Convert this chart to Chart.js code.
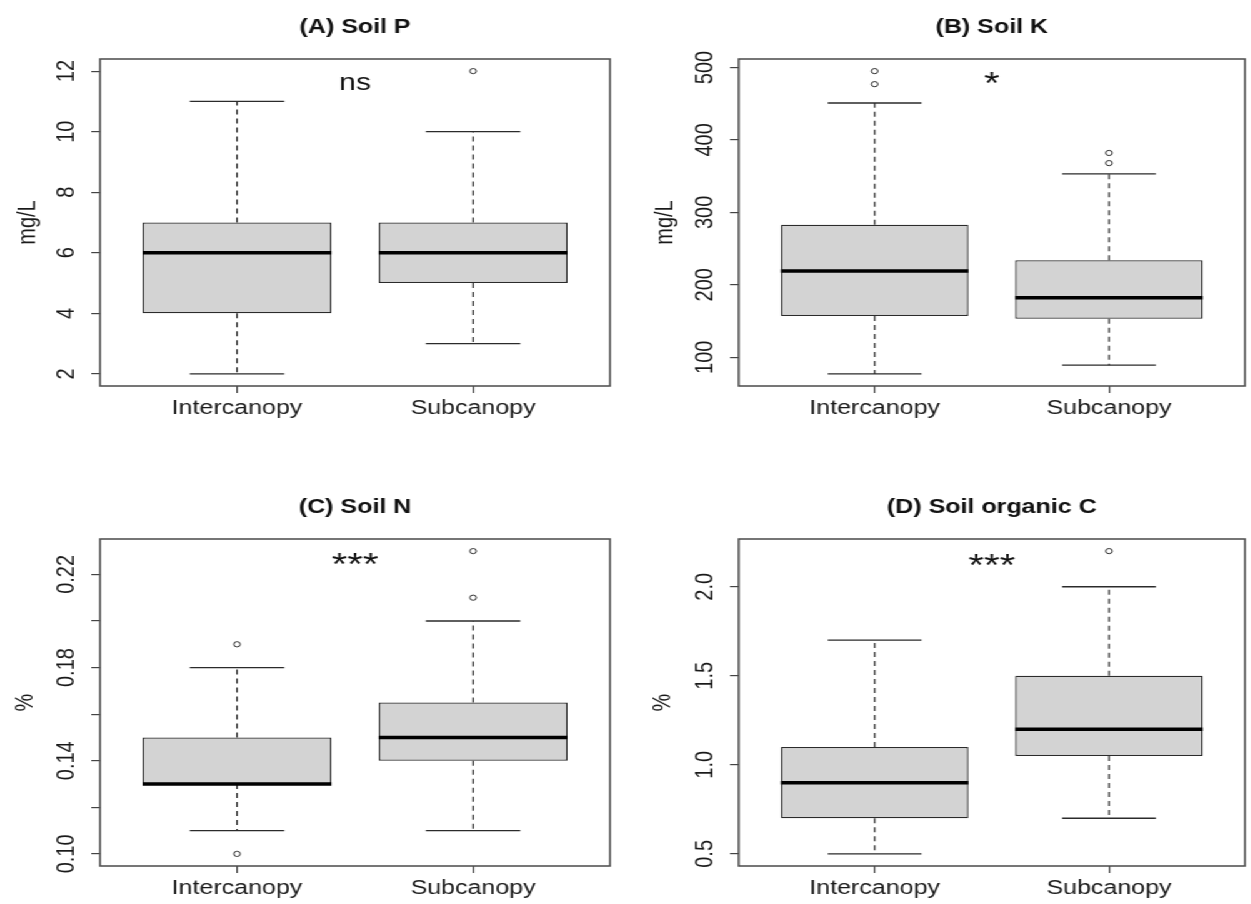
<!DOCTYPE html>
<html>
<head>
<meta charset="utf-8">
<title>Soil nutrients by canopy position</title>
<script src="https://cdn.jsdelivr.net/npm/chart.js@4.4.1/dist/chart.umd.min.js"></script>
<style>
  html, body { margin: 0; padding: 0; background: #ffffff; overflow: hidden; }
  /* The figure is laid out on a narrower grid and widened, which gives the
     lettering and boxes their broad, stretched proportions. */
  #figure { position: absolute; left: 0; top: 0; width: 1000.8px; height: 904px;
            transform: scaleX(1.25); transform-origin: 0 0; }
  .panel { position: absolute; }
</style>
</head>
<body>
<div id="figure">
  <canvas id="panelA" class="panel" width="500" height="424" style="left:0px;top:0px"></canvas>
  <canvas id="panelB" class="panel" width="490" height="424" style="left:511px;top:0px"></canvas>
  <canvas id="panelC" class="panel" width="500" height="424" style="left:0px;top:480px"></canvas>
  <canvas id="panelD" class="panel" width="490" height="424" style="left:511px;top:480px"></canvas>
</div>
<script>
// ---- groups ----
const categories = ['Intercanopy', 'Subcanopy'];
const groupX = [1, 2];

// ---- (A) Soil P, mg/L ----
const pLow = [2, 3];
const pQ1 = [4, 5];
const pMedian = [6, 6];
const pQ3 = [7, 7];
const pHigh = [11, 10];
const pOutliers = [[], [12]];
const pTicks = [2, 4, 6, 8, 10, 12];
const pTickLabels = ['2', '4', '6', '8', '10', '12'];

// ---- (B) Soil K, mg/L ----
const kLow = [77, 89];
const kQ1 = [157, 153];
const kMedian = [219, 182];
const kQ3 = [283, 234];
const kHigh = [451, 353];
const kOutliers = [[477, 495], [368, 382]];
const kTicks = [100, 200, 300, 400, 500];
const kTickLabels = ['100', '200', '300', '400', '500'];

// ---- (C) Soil N, % ----
const nLow = [0.11, 0.11];
const nQ1 = [0.13, 0.14];
const nMedian = [0.13, 0.15];
const nQ3 = [0.15, 0.165];
const nHigh = [0.18, 0.20];
const nOutliers = [[0.19, 0.10], [0.21, 0.23]];
const nTicks = [0.10, 0.12, 0.14, 0.16, 0.18, 0.20, 0.22];
const nTickLabels = ['0.10', '', '0.14', '', '0.18', '', '0.22'];

// ---- (D) Soil organic C, % ----
const cLow = [0.5, 0.7];
const cQ1 = [0.7, 1.05];
const cMedian = [0.9, 1.2];
const cQ3 = [1.1, 1.5];
const cHigh = [1.7, 2.0];
const cOutliers = [[], [2.2]];
const cTicks = [0.5, 1.0, 1.5, 2.0];
const cTickLabels = ['0.5', '1.0', '1.5', '2.0'];

// ---- panel texts ----
const titles = ['(A) Soil P', '(B) Soil K', '(C) Soil N', '(D) Soil organic C'];
const units = ['mg/L', 'mg/L', '%', '%'];
const significance = ['ns', '*', '***', '***'];
const significanceY = [11.6, 476, 0.2234, 2.11];

// ---- drawing ----
const FONT = '"Liberation Sans", Arial, Helvetica, sans-serif';
Chart.defaults.font.family = FONT;
Chart.defaults.color = '#1a1a1a';

const BOX_WIDTH = 0.8;      // box width in group units
const STAPLE_WIDTH = 0.4;   // whisker cap width in group units
const X_MIN = 0.42, X_MAX = 2.58;
const INK = '#2b2b2b';

function paddedRange(values) {
  const lo = Math.min(...values), hi = Math.max(...values);
  const pad = (hi - lo) * 0.04;
  return [lo - pad, hi + pad];
}

// Join separate two-point segments into one series broken by gaps.
function joinSegments(segs) {
  const out = [];
  segs.forEach((s, i) => {
    if (i) out.push({ x: s[0].x, y: null });
    out.push(s[0], s[1]);
  });
  return out;
}

function buildPanel(p) {
  const boxes = groupX.map((x, i) => ({ x, y: [p.q1[i], p.q3[i]] }));
  const whiskers = [], caps = [], medians = [], points = [];
  groupX.forEach((x, i) => {
    whiskers.push([{ x, y: p.q3[i] }, { x, y: p.high[i] }]);
    whiskers.push([{ x, y: p.q1[i] }, { x, y: p.low[i] }]);
    caps.push([{ x: x - STAPLE_WIDTH / 2, y: p.high[i] }, { x: x + STAPLE_WIDTH / 2, y: p.high[i] }]);
    caps.push([{ x: x - STAPLE_WIDTH / 2, y: p.low[i] }, { x: x + STAPLE_WIDTH / 2, y: p.low[i] }]);
    medians.push([{ x: x - BOX_WIDTH / 2, y: p.median[i] }, { x: x + BOX_WIDTH / 2, y: p.median[i] }]);
    p.outliers[i].forEach(v => points.push({ x, y: v }));
  });
  const yRange = paddedRange([...p.low, ...p.high, ...p.outliers.flat()]);

  const frame = {
    id: 'frame',
    afterDraw(chart) {
      const { ctx, chartArea: a } = chart;
      ctx.save();
      ctx.strokeStyle = '#4a4a4a';
      ctx.lineWidth = 1.5;
      ctx.strokeRect(a.left, a.top, a.right - a.left, a.bottom - a.top);
      ctx.restore();
    }
  };

  const rotatedTickLabels = {
    id: 'rotatedTickLabels',
    afterDraw(chart) {
      const { ctx, chartArea: a, scales: { y } } = chart;
      ctx.save();
      ctx.font = '20px ' + FONT;
      ctx.fillStyle = '#1a1a1a';
      ctx.textAlign = 'center';
      ctx.textBaseline = 'middle';
      y.ticks.forEach((t, i) => {
        const text = p.tickLabels[i];
        if (!text) return;
        ctx.save();
        ctx.translate(a.left - 26.8, y.getPixelForValue(t.value));
        ctx.rotate(-Math.PI / 2);
        ctx.fillText(text, 0, 0);
        ctx.restore();
      });
      ctx.restore();
    }
  };

  const note = {
    id: 'note',
    afterDatasetsDraw(chart) {
      const { ctx, scales: { x, y } } = chart;
      ctx.save();
      ctx.font = p.noteSize + 'px ' + FONT;
      ctx.fillStyle = '#111';
      ctx.textAlign = 'center';
      ctx.textBaseline = 'middle';
      ctx.fillText(p.note, x.getPixelForValue(1.5), y.getPixelForValue(p.noteY));
      ctx.restore();
    }
  };

  return new Chart(document.getElementById(p.id), {
    type: 'bar',
    data: {
      datasets: [
        { type: 'line', data: points, showLine: false, pointRadius: 2.6, pointBorderWidth: 1,
          pointBorderColor: INK, pointBackgroundColor: 'rgba(255,255,255,0)', order: 0 },
        { type: 'line', data: joinSegments(medians), borderColor: '#000', borderWidth: 3.5,
          borderCapStyle: 'butt', pointRadius: 0, order: 1 },
        { type: 'line', data: joinSegments(caps), borderColor: INK, borderWidth: 1.3,
          pointRadius: 0, order: 2 },
        { type: 'line', data: joinSegments(whiskers), borderColor: INK, borderWidth: 1.2,
          borderDash: [5, 4], pointRadius: 0, order: 3 },
        { type: 'bar', data: boxes, backgroundColor: '#d3d3d3', borderColor: INK, borderWidth: 1.3,
          borderSkipped: false, barPercentage: BOX_WIDTH, categoryPercentage: 1, order: 4 }
      ]
    },
    options: {
      responsive: false,
      animation: false,
      events: [],
      layout: { padding: { left: 0, top: 0, right: p.rightPad, bottom: 0 } },
      plugins: {
        legend: { display: false },
        tooltip: { enabled: false },
        title: {
          display: true, text: p.title, fullSize: false, align: 'center', color: '#111',
          font: { size: 20, weight: 'bold' }, padding: { top: 15, bottom: 20 }
        }
      },
      scales: {
        x: {
          type: 'linear', min: X_MIN, max: X_MAX, offset: false,
          grid: { offset: false, drawOnChartArea: false, drawTicks: true, tickLength: 7, color: '#444', lineWidth: 1.2 },
          border: { display: false },
          ticks: { autoSkip: false, maxRotation: 0, padding: 3, font: { size: 20 }, color: '#1a1a1a',
                   callback: v => categories[groupX.indexOf(v)] },
          afterBuildTicks: s => { s.ticks = groupX.map(v => ({ value: v })); },
          afterFit: s => { s.height = 38; }
        },
        y: {
          type: 'linear', min: yRange[0], max: yRange[1],
          grid: { drawOnChartArea: false, drawTicks: true, tickLength: 7, color: '#444', lineWidth: 1.2 },
          border: { display: false },
          ticks: { display: false },
          title: { display: true, text: p.unit, font: { size: 20 }, color: '#1a1a1a',
                   padding: { top: p.unitPad, bottom: 0 } },
          afterBuildTicks: s => { s.ticks = p.ticks.map(v => ({ value: v })); },
          afterFit: s => { s.width = 80; }
        }
      }
    },
    plugins: [frame, rotatedTickLabels, note]
  });
}

buildPanel({ id: 'panelA', title: titles[0], unit: units[0], unitPad: 10, rightPad: 12,
  low: pLow, q1: pQ1, median: pMedian, q3: pQ3, high: pHigh, outliers: pOutliers,
  ticks: pTicks, tickLabels: pTickLabels, note: significance[0], noteY: significanceY[0], noteSize: 24 });
buildPanel({ id: 'panelB', title: titles[1], unit: units[1], unitPad: 9, rightPad: 2.6,
  low: kLow, q1: kQ1, median: kMedian, q3: kQ3, high: kHigh, outliers: kOutliers,
  ticks: kTicks, tickLabels: kTickLabels, note: significance[1], noteY: significanceY[1], noteSize: 32 });
buildPanel({ id: 'panelC', title: titles[2], unit: units[2], unitPad: 8, rightPad: 12,
  low: nLow, q1: nQ1, median: nMedian, q3: nQ3, high: nHigh, outliers: nOutliers,
  ticks: nTicks, tickLabels: nTickLabels, note: significance[2], noteY: significanceY[2], noteSize: 32 });
buildPanel({ id: 'panelD', title: titles[3], unit: units[3], unitPad: 7, rightPad: 2.6,
  low: cLow, q1: cQ1, median: cMedian, q3: cQ3, high: cHigh, outliers: cOutliers,
  ticks: cTicks, tickLabels: cTickLabels, note: significance[3], noteY: significanceY[3], noteSize: 32 });
</script>
</body>
</html>
